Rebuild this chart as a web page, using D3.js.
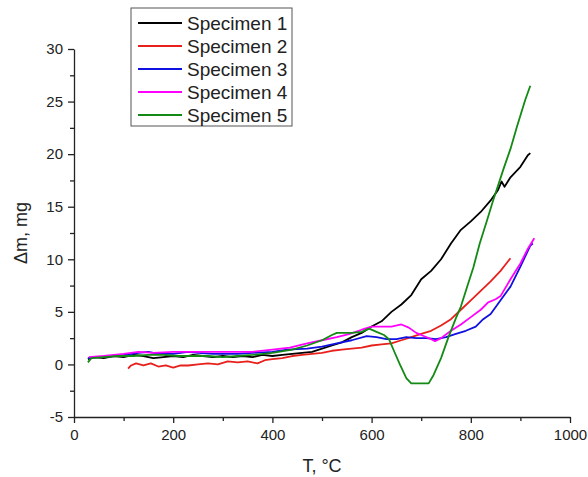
<!DOCTYPE html>
<html>
<head>
<meta charset="utf-8">
<script src="https://cdn.jsdelivr.net/npm/d3@7"></script>
<style>
  body { margin: 0; background: #fff; }
  svg { font-family: Arial, "Liberation Sans", sans-serif; }
</style>
</head>
<body>
<div id="container"></div>
<script>
// values: [T in °C, Δm in mg]
const specimen1 = [[28,0.5],[40,0.7],[60,0.6],[80,0.8],[100,0.7],[120,0.9],[140,0.8],[160,0.6],[180,0.7],[200,0.8],[220,0.7],[240,0.9],[260,0.8],[280,0.7],[300,0.8],[320,0.7],[340,0.8],[360,0.7],[380,0.9],[400,0.8],[420,0.9],[440,1.0],[460,1.1],[480,1.2],[500,1.5],[520,1.8],[540,2.1],[560,2.6],[580,3.0],[600,3.6],[620,4.1],[640,5.0],[660,5.7],[680,6.6],[700,8.1],[720,8.9],[740,10.0],[760,11.5],[780,12.8],[800,13.6],[820,14.5],[840,15.6],[855,16.6],[862,17.4],[868,16.9],[880,17.8],[900,18.8],[915,19.9],[920,20.1]];
const specimen2 = [[109,-0.4],[115,-0.1],[125,0.1],[140,-0.1],[155,0.1],[170,-0.2],[185,-0.1],[200,-0.3],[215,-0.1],[230,-0.1],[250,0.0],[270,0.1],[290,0.0],[310,0.3],[330,0.2],[350,0.3],[370,0.1],[385,0.4],[400,0.5],[420,0.6],[440,0.8],[460,0.9],[480,1.0],[500,1.1],[520,1.3],[540,1.4],[560,1.5],[580,1.6],[600,1.8],[620,1.9],[640,2.0],[660,2.3],[680,2.6],[700,2.9],[720,3.2],[740,3.7],[760,4.3],[780,5.2],[800,6.1],[820,7.0],[840,7.9],[860,8.9],[870,9.5],[880,10.1]];
const specimen3 = [[28,0.6],[50,0.7],[80,0.8],[100,0.9],[130,1.1],[150,1.2],[170,1.0],[200,1.0],[230,1.2],[250,1.1],[280,1.0],[300,1.0],[330,1.0],[360,1.1],[400,1.2],[430,1.4],[470,1.5],[500,1.7],[530,2.0],[560,2.3],[590,2.7],[610,2.6],[630,2.4],[650,2.4],[670,2.6],[690,2.5],[710,2.5],[730,2.4],[750,2.6],[770,2.9],[790,3.2],[810,3.6],[825,4.3],[840,4.8],[860,6.1],[880,7.4],[900,9.3],[920,11.3],[925,11.5]];
const specimen4 = [[30,0.7],[60,0.8],[100,1.0],[130,1.2],[160,1.1],[200,1.2],[240,1.2],[280,1.2],[320,1.2],[360,1.2],[400,1.4],[435,1.6],[470,2.0],[500,2.3],[530,2.6],[556,2.9],[580,3.3],[600,3.6],[620,3.6],[640,3.6],[660,3.8],[675,3.5],[690,3.0],[705,2.7],[720,2.4],[728,2.2],[740,2.5],[760,3.2],[780,3.8],[800,4.5],[820,5.2],[835,5.9],[850,6.2],[860,6.5],[880,8.1],[900,9.6],[915,11.0],[928,12.0]];
const specimen5 = [[28,0.2],[35,0.6],[60,0.7],[90,0.8],[120,0.8],[150,0.9],[180,0.9],[210,0.8],[240,0.8],[270,0.8],[300,0.7],[330,0.8],[360,0.9],[400,1.1],[440,1.4],[470,1.8],[500,2.3],[520,2.8],[530,3.0],[560,3.0],[580,3.1],[595,3.4],[610,3.1],[625,2.8],[635,2.4],[645,1.3],[657,0.0],[670,-1.3],[680,-1.8],[715,-1.8],[725,-1.0],[740,0.6],[755,2.6],[770,4.4],[780,5.5],[792,7.3],[805,9.2],[818,11.5],[832,13.6],[845,15.6],[866,18.6],[880,20.5],[893,22.6],[910,25.2],[920,26.5]];

const names = ["Specimen 1", "Specimen 2", "Specimen 3", "Specimen 4", "Specimen 5"];
const colors = ["#000000", "#e8201c", "#1010e0", "#ff00ff", "#138a13"];
const series = [specimen1, specimen2, specimen3, specimen4, specimen5];

const xTicks = [0, 200, 400, 600, 800, 1000];
const yTicks = [-5, 0, 5, 10, 15, 20, 25, 30];

const w = 588, h = 477;

var xScale = d3.scaleLinear().domain([0, 1000]).range([74, 570]);
var yScale = d3.scaleLinear().domain([-5, 30]).range([417, 49]);

const svg = d3.select("#container")
              .append("svg")
              .attr("width", w)
              .attr("height", h);

// minor ticks first, then major axes on top
svg.append("g")
   .attr("transform", "translate(0," + yScale(-5) + ")")
   .call(d3.axisBottom(xScale).tickValues(d3.range(100, 1000, 200)).tickSize(4).tickFormat(""))
   .call(g => g.select(".domain").remove());
svg.append("g")
   .attr("transform", "translate(" + xScale(0) + ",0)")
   .call(d3.axisLeft(yScale).tickValues(d3.range(-2.5, 30, 5)).tickSize(4).tickFormat(""))
   .call(g => g.select(".domain").remove());

const plain = d => String(d);

svg.append("g")
   .attr("transform", "translate(0," + yScale(-5) + ")")
   .call(d3.axisBottom(xScale).tickValues(xTicks).tickFormat(plain).tickSize(6).tickSizeOuter(0).tickPadding(6));
svg.append("g")
   .attr("transform", "translate(" + xScale(0) + ",0)")
   .call(d3.axisLeft(yScale).tickValues(yTicks).tickFormat(plain).tickSize(6).tickSizeOuter(0).tickPadding(5));

svg.selectAll(".tick text").attr("font-size", 15).attr("font-family", "Arial, 'Liberation Sans', sans-serif").attr("fill", "#222");
svg.selectAll(".domain, .tick line").attr("stroke", "#222").attr("stroke-width", 1.3);

svg.append("text")
   .attr("x", 322).attr("y", 472)
   .attr("text-anchor", "middle")
   .attr("font-size", 18)
   .attr("fill", "#222")
   .text("T, °C");

svg.append("text")
   .attr("transform", "translate(27," + 233 + ") rotate(-90)")
   .attr("text-anchor", "middle")
   .attr("font-size", 18)
   .attr("fill", "#222")
   .text("Δm, mg");

const line = d3.line()
               .x(d => xScale(d[0]))
               .y(d => yScale(d[1]));

svg.selectAll("path.curve")
   .data(series)
   .enter()
   .append("path")
   .attr("class", "curve")
   .attr("d", line)
   .attr("fill", "none")
   .attr("stroke", (d, i) => colors[i])
   .attr("stroke-width", 1.8)
   .attr("stroke-linejoin", "round");

// legend
const legend = svg.append("g").attr("transform", "translate(131,8)");
legend.append("rect")
      .attr("width", 161).attr("height", 118)
      .attr("fill", "#fff").attr("stroke", "#555").attr("stroke-width", 1);
const rows = legend.selectAll("g.row")
      .data(names)
      .enter()
      .append("g")
      .attr("class", "row")
      .attr("transform", (d, i) => "translate(0," + (15 + i * 23) + ")");
rows.append("line")
    .attr("x1", 7).attr("x2", 51)
    .attr("stroke", (d, i) => colors[i])
    .attr("stroke-width", 1.8);
rows.append("text")
    .attr("x", 56).attr("y", 6.5)
    .attr("font-size", 19)
    .attr("fill", "#222")
    .text(d => d);
</script>
</body>
</html>
